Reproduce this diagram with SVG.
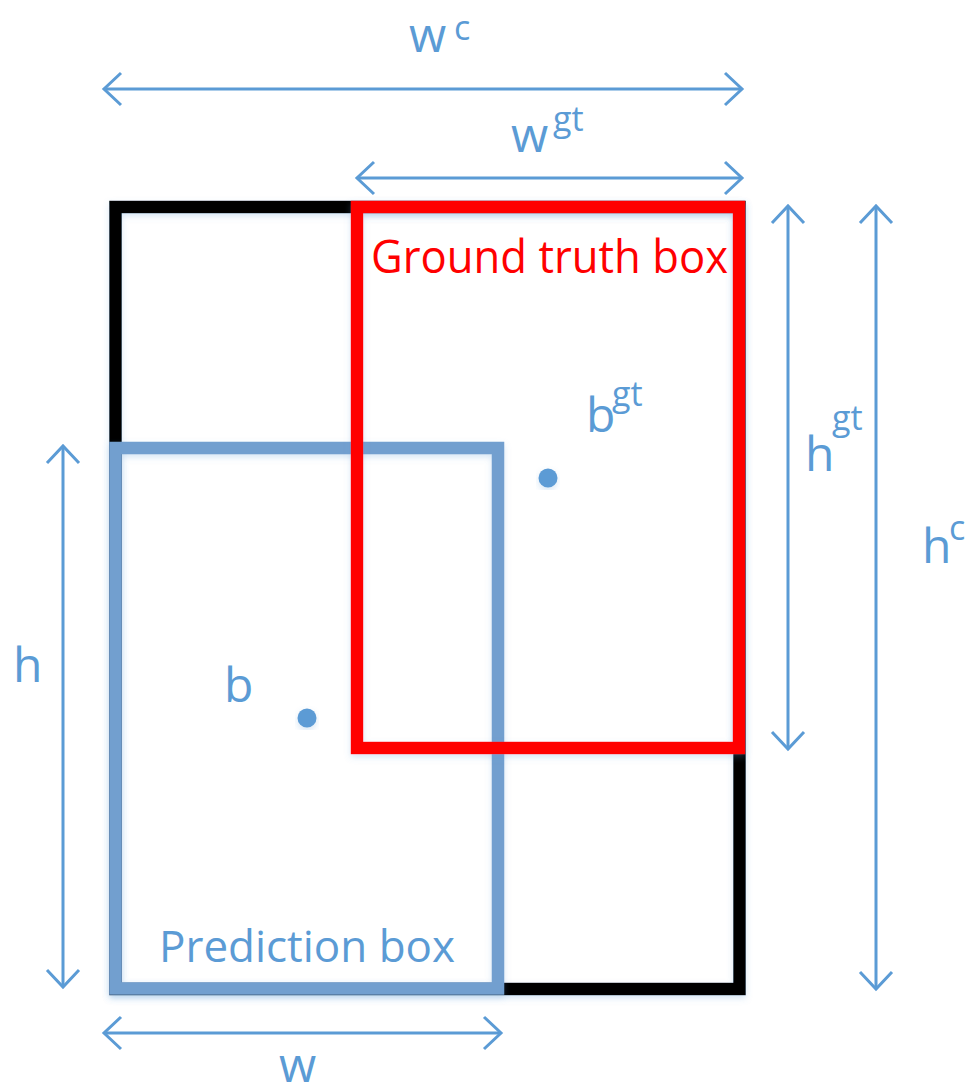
<svg xmlns="http://www.w3.org/2000/svg" width="968" height="1085" viewBox="0 0 968 1085">
  <style>
    .lbl { font-family: "Open Sans", "Lato", "Liberation Sans", sans-serif; fill: #5B9BD5; }
    .main { font-size: 48px; }
    .sup { font-size: 34px; }
    .dim { stroke: #5B9BD5; stroke-width: 3; fill: none; marker-start: url(#chev); marker-end: url(#chev); }
    .box { fill: none; stroke-width: 12.5; stroke-linejoin: miter; filter: url(#shadow); }
  </style>
  <defs>
    <marker id="chev" viewBox="-22 -20 26 40" markerWidth="26" markerHeight="40" refX="0" refY="0" orient="auto-start-reverse" markerUnits="userSpaceOnUse">
      <path d="M-17,-16 L0,0 L-17,16" fill="none" stroke="#5B9BD5" stroke-width="3"/>
    </marker>
    <filter id="shadow" x="-10%" y="-10%" width="120%" height="120%">
      <feDropShadow dx="0" dy="3" stdDeviation="3" flood-color="#5B9BD5" flood-opacity="0.25"/>
    </filter>
  </defs>
  <rect width="968" height="1085" fill="#ffffff"/>

  <g id="enclosing-box">
    <rect class="box" x="115.5" y="207" width="624" height="782" stroke="#000000"/>
  </g>
  <g id="prediction-box">
    <rect class="box" x="115.5" y="448" width="382.5" height="540.5" stroke="#729FCF"/>
    <text class="lbl" x="159" y="962" font-size="44" textLength="296" lengthAdjust="spacingAndGlyphs">Prediction box</text>
  </g>
  <g id="ground-truth-box">
    <rect class="box" x="357" y="207" width="382" height="541" stroke="#FF0000"/>
    <text x="371" y="273" font-family="Open Sans, Lato, Liberation Sans, sans-serif" font-size="46" fill="#FF0000" textLength="357" lengthAdjust="spacingAndGlyphs">Ground truth box</text>
  </g>

  <g id="center-b">
    <circle cx="307" cy="718" r="9.5" fill="#5B9BD5" filter="url(#shadow)"/>
    <text class="lbl main" x="224" y="702">b</text>
  </g>
  <g id="center-bgt">
    <circle cx="548" cy="478" r="9.5" fill="#5B9BD5" filter="url(#shadow)"/>
    <text class="lbl main" x="586" y="432">b<tspan class="sup" x="612" y="406">gt</tspan></text>
  </g>

  <g id="connectors">
    <line class="dim" x1="104" y1="89" x2="742" y2="89"/>
    <line class="dim" x1="357" y1="178" x2="742" y2="178"/>
    <line class="dim" x1="788" y1="206" x2="788" y2="749"/>
    <line class="dim" x1="876" y1="206" x2="876" y2="989"/>
    <line class="dim" x1="63" y1="446" x2="63" y2="987"/>
    <line class="dim" x1="104" y1="1033" x2="501" y2="1033"/>
  </g>

  <g id="labels">
    <text class="lbl main" x="409" y="52">w<tspan class="sup" x="454" y="40">c</tspan></text>
    <text class="lbl main" x="511" y="152">w<tspan class="sup" x="553" y="131">gt</tspan></text>
    <text class="lbl main" x="805" y="471">h<tspan class="sup" x="832" y="430">gt</tspan></text>
    <text class="lbl main" x="922" y="563">h<tspan class="sup" x="949" y="540">c</tspan></text>
    <text class="lbl main" x="13" y="682">h</text>
    <text class="lbl main" x="279" y="1082">w</text>
  </g>
</svg>
